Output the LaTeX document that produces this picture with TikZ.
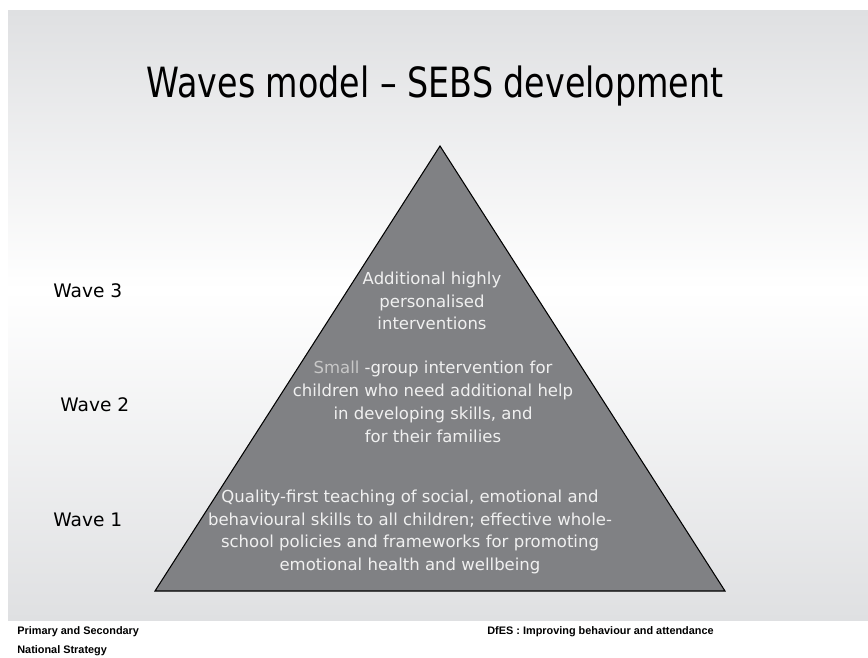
\documentclass[tikz,border=0pt]{standalone}
\usepackage{fontspec}
\setmainfont{DejaVu Sans}
\newfontfamily\footfont{Liberation Sans}
\usetikzlibrary{positioning}
\definecolor{slidegray}{RGB}{223,224,226}
\definecolor{pyrgray}{RGB}{128,129,132}
\definecolor{smallgray}{RGB}{200,200,200}
\definecolor{pyrtextcol}{RGB}{240,240,240}

\begin{document}
\begin{tikzpicture}[x=0.02cm,y=-0.02cm,
  wavelabel/.style={font=\fontsize{10.6}{12}\selectfont,anchor=west,inner sep=0pt},
  pyrtext/.style={font=\fontsize{9.4}{13}\selectfont,text=pyrtextcol,align=center},
  foottext/.style={font=\footfont\bfseries\fontsize{6.2}{7}\selectfont,anchor=west,inner sep=0pt}]
		\useasboundingbox (0,0) rectangle (868,658);
		\fill[white] (0,0) rectangle (868,658);
		\shade[top color=slidegray,bottom color=white] (8,11) rectangle (868,290);
		\shade[top color=white,bottom color=slidegray] (8,290) rectangle (868,620);
		\coordinate (apex) at (440,146);
		\coordinate (baseL) at (155,591);
		\coordinate (baseR) at (725,591);
		\draw[fill=pyrgray,line width=0.6pt] (apex)--(baseR)--(baseL)--cycle;
		\node (title) at (435,86) [font=\fontsize{23.7}{28}\selectfont] {\scalebox{0.80}[1]{Waves model -- SEBS development}};
		\node (wave3) at (53,291) [wavelabel] {Wave 3};
		\node (wave2) at (60,405) [wavelabel] {Wave 2};
		\node (wave1) at (53,520) [wavelabel] {Wave 1};
		\node (tier3) at (432,301) [pyrtext] {Additional highly\\personalised\\interventions};
		\node (tier2) at (433,402) [pyrtext] {\textcolor{smallgray}{Small} -group intervention for\\children who need additional help\\in developing skills, and\\ for their families};
		\node (tier1) at (410,532) [pyrtext] {Quality-first teaching of social, emotional and\\behavioural skills to all children; effective whole-\\school policies and frameworks for promoting\\emotional health and wellbeing};
		\node (strat1) at (17,632) [foottext] {Primary and Secondary};
		\node (strat2) at (17,651) [foottext] {National Strategy};
		\node (dfes) at (487,632) [foottext] {DfES : Improving behaviour and attendance};
\end{tikzpicture}
\end{document}
